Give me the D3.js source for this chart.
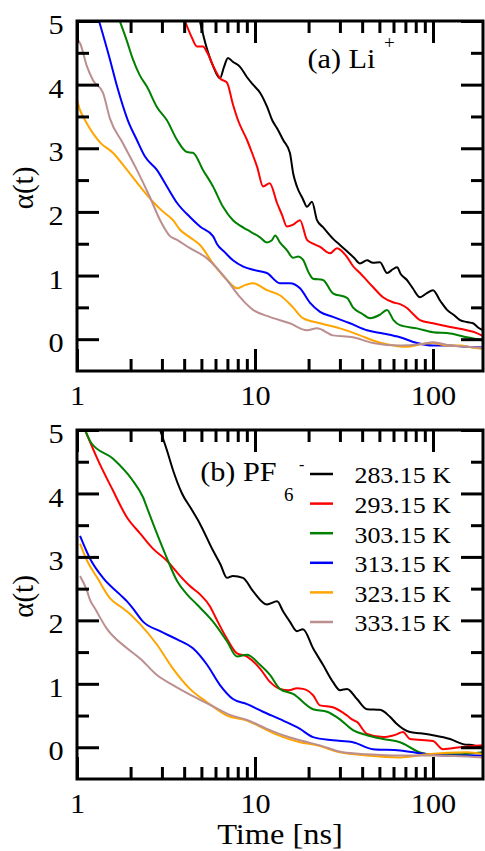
<!DOCTYPE html>
<html><head><meta charset="utf-8">
<script src="https://cdn.jsdelivr.net/npm/d3@7"></script>
<style>
body{margin:0;background:#fff;}
svg text{font-family:"Liberation Serif",Tinos,"Times New Roman",Times,serif;fill:#000;}
.sx{transform-box:fill-box;transform-origin:center;transform:scaleX(1.08);}
</style></head><body><svg id="c" width="485" height="851"></svg>
<script>
// ---------- data ----------
const xMajorTicks=[1,10,100];
const xMinorTicks=[2,3,4,5,6,7,8,9,20,30,40,50,60,70,80,90];
const yMajorTicks=[0,1,2,3,4,5];
const yMinorTicks=[0.5,1.5,2.5,3.5,4.5];
const seriesNames=["283.15 K","293.15 K","303.15 K","313.15 K","323.15 K","333.15 K"];
const seriesColors=["#000000","#ff0000","#008000","#0000ff","#ffa500","#bc8f8f"];

// (a) Li+  : [time ns, alpha]
const li283=[[4.9,5.0],[5.3,4.62],[5.8,4.3],[6.36,4.1],[6.7,4.28],[7.05,4.42],[7.5,4.36],[8.24,4.28],[9.0,4.12],[9.75,4.0],[10.7,3.87],[11.7,3.65],[12.5,3.44],[13.4,3.3],[14.4,3.13],[15.7,2.93],[16.4,2.6],[17.2,2.4],[18.6,2.2],[19.6,2.08],[20.9,2.16],[22.3,1.87],[24.1,1.76],[27.4,1.58],[30.0,1.48],[32.9,1.38],[36,1.28],[38.9,1.19],[42.6,1.24],[46,1.2],[50.4,1.21],[55.2,1.04],[59.6,1.1],[62.8,1.13],[66,1.02],[71.4,0.93],[77,0.8],[84.5,0.66],[92,0.72],[100,0.77],[110,0.6],[120,0.46],[131,0.38],[142,0.3],[155,0.27],[168,0.25],[180,0.18],[191,0.14]];
const li293=[[4.04,5.0],[4.4,4.75],[4.72,4.6],[5.1,4.6],[5.4,4.5],[5.81,4.3],[6.36,4.1],[6.96,4.03],[7.5,3.7],[8.03,3.44],[9.02,3.13],[9.62,2.93],[10.3,2.7],[11.1,2.4],[12.1,2.45],[13.3,2.14],[14.2,1.95],[15.1,1.77],[16.4,1.8],[17.9,1.87],[19.6,1.56],[21.2,1.5],[23.2,1.45],[26.4,1.35],[28.9,1.43],[32.9,1.29],[35.5,1.15],[38.9,1.04],[42.6,0.92],[46,0.82],[52.4,0.66],[59.6,0.58],[65.3,0.55],[71.4,0.49],[77,0.4],[84.5,0.3],[100,0.25],[125,0.19],[155,0.14],[175,0.1],[191,0.05]];
const li303=[[1.74,5.0],[1.9,4.7],[2.06,4.4],[2.25,4.15],[2.47,3.97],[2.81,3.65],[3.2,3.44],[3.65,3.13],[4.15,2.94],[4.48,2.93],[5.1,2.66],[5.81,2.4],[6.61,2.08],[7.52,1.87],[8.3,1.78],[9.02,1.72],[10.67,1.6],[11.67,1.52],[12.4,1.55],[13.0,1.63],[13.8,1.52],[15.1,1.4],[16.35,1.28],[17.5,1.3],[18.6,1.25],[20.0,1.05],[21.2,0.95],[24.1,0.93],[27.4,0.72],[32.9,0.65],[35.5,0.5],[40,0.4],[44.3,0.33],[50,0.38],[55.2,0.46],[60,0.3],[65.3,0.22],[81.3,0.17],[100,0.11],[125,0.09],[155,0.03],[191,-0.02]];
const li313=[[1.33,5.0],[1.53,4.4],[1.68,3.97],[1.93,3.44],[2.17,3.13],[2.41,2.87],[2.81,2.66],[3.2,2.4],[3.65,2.14],[4.31,1.92],[4.91,1.77],[5.81,1.62],[6.1,1.5],[6.8,1.36],[7.52,1.24],[8.6,1.14],[9.75,1.09],[11.67,1.04],[13.8,0.88],[15.7,0.88],[17.9,0.8],[20.4,0.57],[23.2,0.43],[27.4,0.35],[34.2,0.25],[42.6,0.14],[52.4,0.09],[65.3,0.03],[81.3,-0.06],[100,-0.1],[125,-0.1],[155,-0.12],[191,-0.13]];
const li323=[[1.0,3.76],[1.04,3.6],[1.11,3.44],[1.35,3.09],[1.59,2.93],[1.91,2.66],[2.26,2.4],[2.67,2.16],[3.0,2.02],[3.46,1.87],[3.79,1.72],[4.31,1.6],[4.91,1.48],[5.81,1.19],[6.96,0.93],[7.92,0.8],[8.8,0.85],[9.75,0.88],[11.67,0.77],[13.8,0.69],[16.35,0.5],[18.6,0.33],[23.2,0.25],[30,0.17],[38.9,0.06],[46,-0.02],[55,-0.08],[71.4,-0.12],[85,-0.08],[100,-0.06],[120,-0.1],[142,-0.1],[165,-0.13],[191,-0.15]];
const li333=[[1.0,4.72],[1.04,4.65],[1.14,4.28],[1.23,4.07],[1.40,3.87],[1.53,3.47],[1.81,3.08],[2.17,2.66],[2.57,2.23],[2.93,1.87],[3.33,1.62],[3.65,1.56],[4.31,1.43],[5.38,1.27],[6.96,0.93],[8.24,0.66],[9.75,0.46],[12.1,0.35],[15.7,0.25],[19.6,0.14],[22.3,0.17],[27.4,0.06],[35.5,0.03],[46,-0.06],[65.3,-0.1],[85,-0.08],[100,-0.05],[125,-0.1],[155,-0.12],[191,-0.14]];

// (b) PF6-
const pf283=[[2.93,5.0],[3.2,4.68],[3.46,4.37],[3.89,4.0],[4.4,3.75],[4.91,3.52],[5.81,3.1],[6.4,2.88],[6.96,2.67],[7.52,2.7],[8.56,2.67],[9.75,2.46],[11.67,2.25],[13.3,2.3],[14.4,2.14],[15.7,1.98],[17.2,1.83],[18.6,1.86],[21.2,1.56],[24.1,1.3],[27.4,1.03],[30,0.9],[32.9,0.92],[37.4,0.76],[42.6,0.6],[50.4,0.59],[57.3,0.48],[62,0.38],[74.3,0.24],[85,0.22],[100,0.19],[124.7,0.13],[147.5,0.05],[170,0.03],[191,0.0]];
const pf293=[[1.11,5.0],[1.3,4.55],[1.59,4.05],[1.91,3.62],[2.26,3.37],[2.67,3.13],[3.2,2.94],[3.79,2.7],[4.31,2.54],[4.91,2.41],[5.59,2.22],[6.0,2.05],[6.96,1.71],[7.92,1.48],[9.02,1.43],[10.67,1.24],[12.14,1.03],[13.8,0.92],[15.5,0.9],[17.2,0.93],[18.6,0.92],[21.2,0.82],[23.2,0.66],[27.4,0.63],[32.9,0.5],[35.5,0.43],[37.4,0.4],[42.6,0.21],[52.4,0.16],[62,0.2],[67.8,0.24],[74.3,0.13],[100,0.1],[113.8,-0.03],[142,0.0],[191,0.03]];
const pf303=[[1.11,5.0],[1.2,4.8],[1.59,4.55],[2.06,4.2],[2.35,3.94],[2.47,3.78],[2.81,3.37],[3.2,2.98],[3.65,2.62],[4.15,2.41],[4.72,2.25],[5.81,1.98],[6.96,1.67],[7.92,1.43],[9.02,1.46],[10.67,1.3],[12.14,1.14],[13.8,0.92],[16.35,0.84],[21.2,0.6],[25.4,0.56],[30,0.44],[35.5,0.27],[42.6,0.19],[52.4,0.13],[65.3,0.08],[84.5,-0.08],[100,-0.11],[142,-0.11],[191,-0.08]];
const pf313=[[1.04,3.33],[1.18,2.98],[1.40,2.67],[1.74,2.41],[1.91,2.3],[2.06,2.19],[2.35,1.98],[2.93,1.83],[3.65,1.7],[4.48,1.56],[5.38,1.3],[6.36,0.98],[7.52,0.76],[9.02,0.68],[11.09,0.56],[14.4,0.42],[17.9,0.29],[21.2,0.16],[27.4,0.11],[35.5,0.08],[46,-0.03],[65.3,-0.05],[92.5,-0.11],[124.7,-0.13],[191,-0.13]];
const pf323=[[1.04,3.21],[1.14,2.94],[1.30,2.67],[1.53,2.35],[1.81,2.19],[1.91,2.14],[2.26,1.94],[2.81,1.62],[3.46,1.24],[4.31,0.92],[5.38,0.71],[6.96,0.5],[9.02,0.42],[11.67,0.27],[14.4,0.16],[17.9,0.08],[22.3,0.03],[30,-0.08],[42.6,-0.13],[65.3,-0.16],[92.5,-0.11],[155,-0.08],[191,-0.11]];
const pf333=[[1.04,2.7],[1.14,2.46],[1.18,2.33],[1.26,2.19],[1.47,1.87],[1.91,1.56],[2.26,1.4],[2.81,1.14],[3.46,0.98],[4.31,0.83],[5.59,0.67],[7.24,0.51],[9.02,0.43],[11.67,0.29],[14.4,0.19],[17.9,0.11],[23.2,0.03],[31.2,-0.08],[42.6,-0.11],[65.3,-0.13],[100,-0.13],[191,-0.16]];

const liSeries=[li283,li293,li303,li313,li323,li333];
const pfSeries=[pf283,pf293,pf303,pf313,pf323,pf333];

// ---------- drawing ----------
const svg=d3.select("#c");
const L=77,R=483;
const x=d3.scaleLog().domain([1,191]).range([L,R]);
const FS=28;
const FONT='"Liberation Serif",Tinos,"Times New Roman",Times,serif';

function panel(id,top,bottom,series){
  const y=d3.scaleLinear().domain([-0.5,5]).range([bottom,top]);
  const g=svg.append("g").attr("font-family",FONT);
  g.append("clipPath").attr("id","clip"+id).append("rect")
    .attr("x",L).attr("y",top).attr("width",R-L).attr("height",bottom-top);
  const line=d3.line().curve(d3.curveMonotoneX).x(d=>x(d[0])).y(d=>y(d[1]));
  const lg=g.append("g").attr("clip-path","url(#clip"+id+")");
  series.forEach((s,i)=>{
    lg.append("path").datum(s).attr("d",line).attr("fill","none")
      .attr("stroke",seriesColors[i]).attr("stroke-width",2).attr("stroke-linejoin","round");
  });
  function styleAxis(sel){
    sel.attr("font-family",FONT);
    sel.select(".domain").remove();
    sel.selectAll(".tick line").attr("stroke","#000").attr("stroke-width",3);
  }
  g.append("g").attr("transform",`translate(0,${bottom})`)
    .call(d3.axisBottom(x).tickValues(xMajorTicks).tickSize(-22).tickPadding(14).tickFormat(d3.format("d")))
    .call(styleAxis)
    .call(a=>a.selectAll("text").attr("font-size",FS).attr("class","sx"));
  g.append("g").attr("transform",`translate(0,${bottom})`)
    .call(d3.axisBottom(x).tickValues(xMinorTicks).tickSize(-12).tickFormat(""))
    .call(styleAxis);
  g.append("g").attr("transform",`translate(0,${top})`)
    .call(d3.axisTop(x).tickValues(xMajorTicks).tickSize(-22).tickFormat(""))
    .call(styleAxis);
  g.append("g").attr("transform",`translate(0,${top})`)
    .call(d3.axisTop(x).tickValues(xMinorTicks).tickSize(-12).tickFormat(""))
    .call(styleAxis);
  g.append("g").attr("transform",`translate(${L},0)`)
    .call(d3.axisLeft(y).tickValues(yMajorTicks).tickSize(-22).tickPadding(14).tickFormat(d3.format("d")))
    .call(styleAxis)
    .call(a=>a.selectAll("text").attr("font-size",FS).attr("dy","0.45em").attr("class","sx"));
  g.append("g").attr("transform",`translate(${L},0)`)
    .call(d3.axisLeft(y).tickValues(yMinorTicks).tickSize(-12).tickFormat(""))
    .call(styleAxis);
  g.append("g").attr("transform",`translate(${R},0)`)
    .call(d3.axisRight(y).tickValues(yMajorTicks).tickSize(-22).tickFormat(""))
    .call(styleAxis);
  g.append("g").attr("transform",`translate(${R},0)`)
    .call(d3.axisRight(y).tickValues(yMinorTicks).tickSize(-12).tickFormat(""))
    .call(styleAxis);
  g.append("rect").attr("x",L).attr("y",top).attr("width",R-L).attr("height",bottom-top)
    .attr("fill","none").attr("stroke","#000").attr("stroke-width",3);
  g.append("text").attr("transform",`translate(33,${(top+bottom)/2-8}) rotate(-90)`)
    .attr("text-anchor","middle").attr("font-size",29).text("α(t)");
  return g;
}

const gA=panel("a",21,371,liSeries);
const gB=panel("b",430,779,pfSeries);

gA.append("text").attr("x",310).attr("y",68).attr("font-size",FS).attr("class","sx").text("(a) Li");
gA.append("text").attr("x",384).attr("y",49).attr("font-size",19).text("+");
gB.append("text").attr("x",203).attr("y",481).attr("font-size",FS).attr("class","sx").text("(b) PF");
gB.append("text").attr("x",284).attr("y",501).attr("font-size",19).text("6");
gB.append("text").attr("x",299).attr("y",470).attr("font-size",16).text("-");

const legend=gB.append("g");
seriesNames.forEach((n,i)=>{
  const yy=474+i*29.6;
  legend.append("line").attr("x1",310).attr("x2",333).attr("y1",yy).attr("y2",yy)
    .attr("stroke",seriesColors[i]).attr("stroke-width",2.5);
  legend.append("text").attr("x",358).attr("y",yy+9.5).attr("font-size",24).attr("class","sx").text(n);
});

svg.append("text").attr("x",280).attr("y",844).attr("text-anchor","middle")
  .attr("font-family",FONT).attr("font-size",30).attr("class","sx").text("Time [ns]");
</script></body></html>
